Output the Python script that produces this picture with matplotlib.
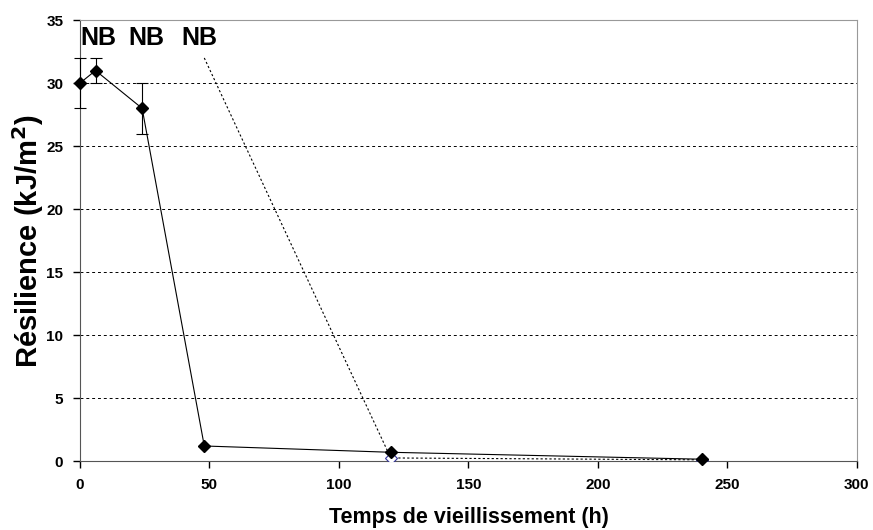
import matplotlib
matplotlib.use("Agg")
import matplotlib.pyplot as plt

# Data
hours = [0, 6, 24, 48, 120, 240]
resilience = [30, 31, 28, 1.2, 0.7, 0.15]
err_low = [2, 1, 2, 0, 0, 0]
err_high = [2, 1, 2, 0, 0, 0]

hours_b = [48, 120, 240]
resilience_b = [32, 0.25, 0.1]

nb_x = [0, 18.5, 39]
nb_labels = ["NB", "NB", "NB"]

plt.rcParams['font.family'] = ['Liberation Sans', 'DejaVu Sans']

fig = plt.figure(figsize=(8.73, 5.30), dpi=100)
ax = fig.add_axes([0.0916, 0.130, 0.890, 0.832])

# horizontal grid
for y in range(5, 35, 5):
    ax.axhline(y, color='black', linestyle=(0, (3, 3)), linewidth=0.7, zorder=0)

# second series (dashed, open markers)
ax.plot(hours_b, resilience_b, color='black', linestyle=(0, (2, 2)),
        linewidth=0.8, zorder=2)
ax.plot(hours_b[1:], resilience_b[1:], linestyle='none', marker='D',
        markersize=6, markerfacecolor='white', markeredgecolor='#333399',
        markeredgewidth=0.8, zorder=3)

# main series
ax.errorbar(hours, resilience, yerr=[err_low, err_high], color='black',
            linewidth=0.8, marker='D', markersize=6, capsize=4,
            elinewidth=0.8, capthick=0.8, zorder=4, clip_on=False)

for x, lab in zip(nb_x, nb_labels):
    ax.text(x, 33.6, lab, fontsize=18, fontweight='bold', ha='left', va='center')

ax.set_xlim(0, 300)
ax.set_ylim(0, 35)
ax.set_xticks(range(0, 301, 50))
ax.set_yticks(range(0, 36, 5))
ax.tick_params(direction='out', length=5, width=1, labelsize=11, pad=7)
for lab in ax.get_xticklabels() + ax.get_yticklabels():
    lab.set_fontweight('bold')

for side in ['top', 'right']:
    ax.spines[side].set_color('#999999')
for side in ['left', 'bottom']:
    ax.spines[side].set_color('#555555')

ax.set_xlabel('Temps de vieillissement (h)', fontsize=15.5, fontweight='bold')
ax.set_ylabel('Résilience (kJ/m$^{\\mathbf{2}}$)', fontsize=21, fontweight='bold')
ax.xaxis.set_label_coords(0.5, -0.129)
ax.yaxis.set_label_coords(-0.067, 0.5)
ax.xaxis.label.set_va('center')
ax.yaxis.label.set_va('center')

fig.savefig('out.png', dpi=100)
